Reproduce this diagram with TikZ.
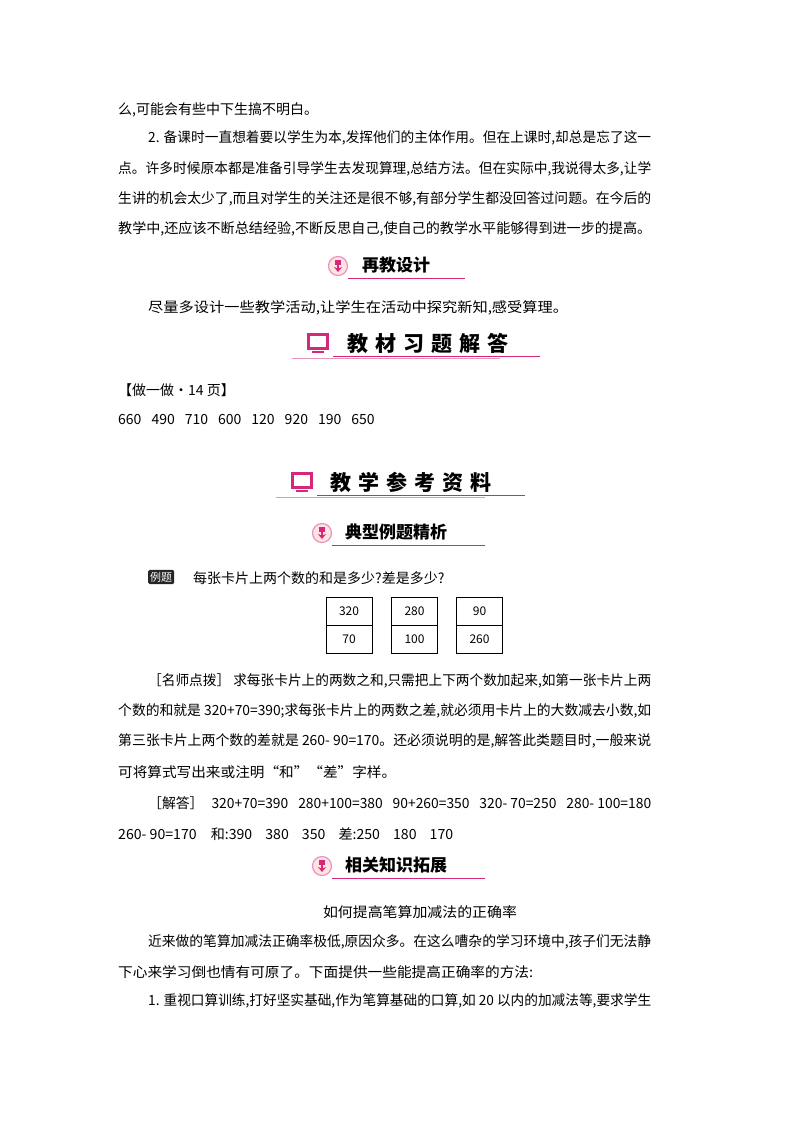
\documentclass[tikz,border=0pt]{standalone}
\usepackage{fontspec}
\usepackage{graphicx}
\usetikzlibrary{arrows.meta}
\setmainfont{Noto Sans CJK SC}
\definecolor{pk}{RGB}{214,40,120}
\definecolor{lpk}{RGB}{230,150,190}
\newcommand{\tline}[5]{\node[tx] (#1) at (#2,#3) {\resizebox{#4pt}{\height}{#5}};}
\begin{document}
\begin{tikzpicture}[x=1pt,y=-1pt,font=\fontsize{14}{14}\selectfont,
  tx/.style={anchor=west,inner sep=0pt},
  hd/.style={anchor=west,inner sep=0pt,font=\fontsize{17}{17}\selectfont\bfseries},
  hdb/.style={anchor=west,inner sep=0pt,font=\fontsize{21}{21}\selectfont\bfseries},
  circ/.style={circle,draw=lpk,fill=pink!45,line width=1.2pt,minimum size=19pt,inner sep=0pt},
  mon/.style={draw=pk,fill=white,line width=3pt,minimum width=19pt,minimum height=14pt,inner sep=0pt},
  card/.style={draw,line width=0.6pt,minimum width=46pt,minimum height=28pt,inner sep=0pt,font=\fontsize{12}{12}\selectfont}]
\useasboundingbox (0,0) rectangle (800,1132);
\tline{l1}{118}{110}{200}{么,可能会有些中下生搞不明白。}
\tline{l2}{148}{138}{503}{2. 备课时一直想着要以学生为本,发挥他们的主体作用。但在上课时,却总是忘了这一}
\tline{l3}{118}{169}{533}{点。许多时候原本都是准备引导学生去发现算理,总结方法。但在实际中,我说得太多,让学}
\tline{l4}{118}{199}{533}{生讲的机会太少了,而且对学生的关注还是很不够,有部分学生都没回答过问题。在今后的}
\tline{l5}{118}{229}{533}{教学中,还应该不断总结经验,不断反思自己,使自己的教学水平能够得到进一步的提高。}
% header 1
\node[circ] (i1) at (338,266) {};
\node[fill=pk,minimum width=6pt,minimum height=5pt,inner sep=0pt] (i1a) at (338,262) {};
\draw[pk,line width=2pt,-{Stealth[length=5pt,width=8pt]}] (i1a.center) -- (338,272);
\node[hd] (h1) at (362,265) {再教设计};
\draw[pk,line width=0.8pt] (348,278) -- (465,278);
\tline{l6}{148}{308}{420}{尽量多设计一些教学活动,让学生在活动中探究新知,感受算理。}
% header 2
\node[mon] (m1) at (318,341) {};
\draw[pk,line width=2pt] (312,352) -- (324,352);
\node[hdb] (h2) at (347,343) {教\,\,材\,\,习\,\,题\,\,解\,\,答};
\draw[lpk,line width=0.6pt] (292,358) -- (500,358);
\draw[pk,line width=0.6pt] (333,356) -- (540,356);
\node[tx] (z1) at (118,390) {【做一做·14 页】};
\node[tx] (z2) at (118,420) {660\hspace{10pt}490\hspace{10pt}710\hspace{10pt}600\hspace{10pt}120\hspace{10pt}920\hspace{10pt}190\hspace{10pt}650};
% header 3
\node[mon] (m2) at (302,480) {};
\draw[pk,line width=2pt] (296,491) -- (308,491);
\node[hdb] (h3) at (330,482) {教\,\,学\,\,参\,\,考\,\,资\,\,料};
\draw[lpk,line width=0.6pt] (276,497) -- (485,497);
\draw[pk,line width=0.6pt] (317,495) -- (525,495);
% header 4
\node[circ] (i2) at (322,533) {};
\node[fill=pk,minimum width=6pt,minimum height=5pt,inner sep=0pt] (i2a) at (322,529) {};
\draw[pk,line width=2pt,-{Stealth[length=5pt,width=8pt]}] (i2a.center) -- (322,539);
\node[hd] (h4) at (345,532) {典型例题精析};
\draw[pk,line width=0.8pt] (332,545) -- (485,545);
% example
\node[fill=black!85,text=white,rounded corners=1.5pt,inner sep=2pt,font=\fontsize{11}{11}\selectfont,anchor=west] (tag) at (148,577) {例题};
\node[tx] (q) at (193,578) {每张卡片上两个数的和是多少?差是多少?};
\node[card] (c1a) at (349,611) {320};
\node[card,anchor=north] (c1b) at (c1a.south) {70};
\node[card] (c2a) at (414.5,611) {280};
\node[card,anchor=north] (c2b) at (c2a.south) {100};
\node[card] (c3a) at (479.5,611) {90};
\node[card,anchor=north] (c3b) at (c3a.south) {260};
\tline{p1}{148}{681}{503}{［名师点拨］ 求每张卡片上的两数之和,只需把上下两个数加起来,如第一张卡片上两}
\tline{p2}{118}{711}{533}{个数的和就是 320+70=390;求每张卡片上的两数之差,就必须用卡片上的大数减去小数,如}
\tline{p3}{118}{741}{533}{第三张卡片上两个数的差就是 260- 90=170。还必须说明的是,解答此类题目时,一般来说}
\tline{p4}{118}{772}{278}{可将算式写出来或注明“和”“差”字样。}
\tline{a1}{148}{803}{503}{［解答］\hspace{8pt}320+70=390\hspace{10pt}280+100=380\hspace{10pt}90+260=350\hspace{10pt}320- 70=250\hspace{10pt}280- 100=180}
\tline{a2}{118}{834}{335}{260- 90=170\hspace{14pt}和:390\hspace{13pt}380\hspace{13pt}350\hspace{13pt}差:250\hspace{13pt}180\hspace{13pt}170}
% header 5
\node[circ] (i3) at (322,866) {};
\node[fill=pk,minimum width=6pt,minimum height=5pt,inner sep=0pt] (i3a) at (322,862) {};
\draw[pk,line width=2pt,-{Stealth[length=5pt,width=8pt]}] (i3a.center) -- (322,872);
\node[hd] (h5) at (345,865) {相关知识拓展};
\draw[pk,line width=0.8pt] (332,878) -- (485,878);
\node[inner sep=0pt] (t) at (420,912) {\resizebox{194pt}{\height}{如何提高笔算加减法的正确率}};
\tline{b1}{148}{942}{503}{近来做的笔算加减法正确率极低,原因众多。在这么嘈杂的学习环境中,孩子们无法静}
\tline{b2}{118}{972}{415}{下心来学习倒也情有可原了。下面提供一些能提高正确率的方法:}
\tline{b3}{148}{1001}{503}{1. 重视口算训练,打好坚实基础,作为笔算基础的口算,如 20 以内的加减法等,要求学生}
\end{tikzpicture}
\end{document}
